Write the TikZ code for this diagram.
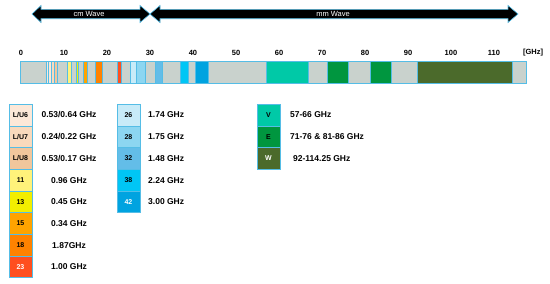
\documentclass[tikz,border=0pt]{standalone}
\usepackage{fontspec}
\setmainfont{Liberation Sans}
\definecolor{bargrey}{HTML}{C9D2CD}
\definecolor{edgeblue}{HTML}{55BDE6}
\definecolor{lu6}{HTML}{FCE8D8}
\definecolor{lu7}{HTML}{F9D9BC}
\definecolor{lu8}{HTML}{F1C69C}
\definecolor{b11}{HTML}{FFF27A}
\definecolor{b13}{HTML}{F2EE00}
\definecolor{b15}{HTML}{FFA300}
\definecolor{b18}{HTML}{FF8200}
\definecolor{b23}{HTML}{FF4F1F}
\definecolor{b26}{HTML}{C8EBF8}
\definecolor{b28}{HTML}{8CD6F1}
\definecolor{b32}{HTML}{63BDE8}
\definecolor{b38}{HTML}{00C6F5}
\definecolor{b42}{HTML}{00A3E0}
\definecolor{bV}{HTML}{00C9A7}
\definecolor{bE}{HTML}{00963F}
\definecolor{bW}{HTML}{4B6A2B}

\begin{document}
\begin{tikzpicture}[x=1pt,y=-1pt,
  bandbox/.style={draw=edgeblue,line width=0.5pt},
  keybox/.style={draw=edgeblue,line width=0.6pt,minimum width=23pt,minimum height=21.7pt,inner sep=0pt,font=\fontsize{7}{8}\selectfont\bfseries},
  keytxt/.style={font=\fontsize{8.5}{10}\selectfont\bfseries,inner sep=0pt},
  ticktxt/.style={font=\fontsize{7.5}{9}\selectfont\bfseries,inner sep=0pt},
  wavearrow/.style={fill=black,draw=edgeblue,line width=0.6pt}]
  \useasboundingbox (0,0) rectangle (550,284);
  % wave ranges
  \draw[wavearrow] (32,14)--(41,5.5)--(41,9.3)--(140,9.3)--(140,5.5)--(150,14)--(140,22.5)--(140,18.7)--(41,18.7)--(41,22.5)--cycle;
  \draw[wavearrow] (150,14)--(160,5.5)--(160,9.3)--(508,9.3)--(508,5.5)--(518,14)--(508,22.5)--(508,18.7)--(160,18.7)--(160,22.5)--cycle;
  \node[white,font=\fontsize{7.5}{8}\selectfont,inner sep=0pt] (cmlbl) at (89,14){cm Wave};
  \node[white,font=\fontsize{7.5}{8}\selectfont,inner sep=0pt] (mmlbl) at (333,14){mm Wave};
  % axis labels
  \foreach \f in {0,10,...,110} \node[ticktxt] (t\f) at (21+4.3*\f,52.7){\f};
  \node[ticktxt] (unit) at (533,52.7){[GHz]};
  % spectrum bar
  \begin{scope}[shift={(21,0)},x=4.3pt]
    \draw[edgeblue,line width=0.8pt,fill=bargrey] (-0.05,61) rectangle (117.6,83);
    \path[bandbox,fill=lu6] (5.9,61) rectangle (6.4,83); \path[bandbox,fill=lu6] (6.4,61) rectangle (7.1,83);
    \path[bandbox,fill=lu7] (7.1,61) rectangle (7.75,83); \path[bandbox,fill=lu8] (7.75,61) rectangle (8.5,83);
    \path[bandbox,fill=b11] (10.7,61) rectangle (11.7,83); \path[bandbox,fill=b13] (12.75,61) rectangle (13.25,83);
    \path[bandbox,fill=b15] (14.5,61) rectangle (15.35,83); \path[bandbox,fill=b18] (17.3,61) rectangle (18.9,83);
    \path[bandbox,fill=b23] (22.4,61) rectangle (23.4,83); \path[bandbox,fill=b26] (25.3,61) rectangle (26.9,83);
    \path[bandbox,fill=b28] (26.9,61) rectangle (29.0,83); \path[bandbox,fill=b32] (31.3,61) rectangle (32.8,83);
    \path[bandbox,fill=b38] (37.0,61) rectangle (39.0,83); \path[bandbox,fill=b42] (40.5,61) rectangle (43.5,83);
    \path[bandbox,fill=bV] (57.0,61) rectangle (66.7,83);
    \path[bandbox,fill=bE] (71.2,61) rectangle (76.2,83); \path[bandbox,fill=bE] (81.2,61) rectangle (86.2,83);
    \path[bandbox,fill=bW] (92.2,61) rectangle (114.25,83);
  \end{scope}
  % microwave bands
  \node[keybox,fill=lu6] (lu6) at (20.5,115){L/U6};   \node[keytxt] (lu6t) at (69,115){0.53/0.64 GHz};
  \node[keybox,fill=lu7] (lu7) at (20.5,136.7){L/U7}; \node[keytxt] (lu7t) at (69,136.7){0.24/0.22 GHz};
  \node[keybox,fill=lu8] (lu8) at (20.5,158.4){L/U8}; \node[keytxt] (lu8t) at (69,158.4){0.53/0.17 GHz};
  \node[keybox,fill=b11] (k11) at (20.5,180.1){11};   \node[keytxt] (k11t) at (69,180.1){0.96 GHz};
  \node[keybox,fill=b13] (k13) at (20.5,201.8){13};   \node[keytxt] (k13t) at (69,201.8){0.45 GHz};
  \node[keybox,fill=b15] (k15) at (20.5,223.5){15};   \node[keytxt] (k15t) at (69,223.5){0.34 GHz};
  \node[keybox,fill=b18] (k18) at (20.5,245.2){18};   \node[keytxt] (k18t) at (69,245.2){1.87GHz};
  \node[keybox,fill=b23,text=white] (k23) at (20.5,266.9){23}; \node[keytxt] (k23t) at (69,266.9){1.00 GHz};
  % upper microwave bands
  \node[keybox,fill=b26] (k26) at (128.5,115){26};   \node[keytxt,anchor=west] (k26t) at (148,115){1.74 GHz};
  \node[keybox,fill=b28] (k28) at (128.5,136.7){28}; \node[keytxt,anchor=west] (k28t) at (148,136.7){1.75 GHz};
  \node[keybox,fill=b32] (k32) at (128.5,158.4){32}; \node[keytxt,anchor=west] (k32t) at (148,158.4){1.48 GHz};
  \node[keybox,fill=b38] (k38) at (128.5,180.1){38}; \node[keytxt,anchor=west] (k38t) at (148,180.1){2.24 GHz};
  \node[keybox,fill=b42,text=white] (k42) at (128.5,201.8){42}; \node[keytxt,anchor=west] (k42t) at (148,201.8){3.00 GHz};
  % mm wave bands
  \node[keybox,fill=bV] (kV) at (268.5,115){V};   \node[keytxt,anchor=west] (kVt) at (290,115){57-66 GHz};
  \node[keybox,fill=bE] (kE) at (268.5,136.7){E}; \node[keytxt,anchor=west] (kEt) at (290,136.7){71-76 \& 81-86 GHz};
  \node[keybox,fill=bW,text=white] (kW) at (268.5,158.4){W}; \node[keytxt,anchor=west] (kWt) at (293,158.4){92-114.25 GHz};
\end{tikzpicture}
\end{document}
